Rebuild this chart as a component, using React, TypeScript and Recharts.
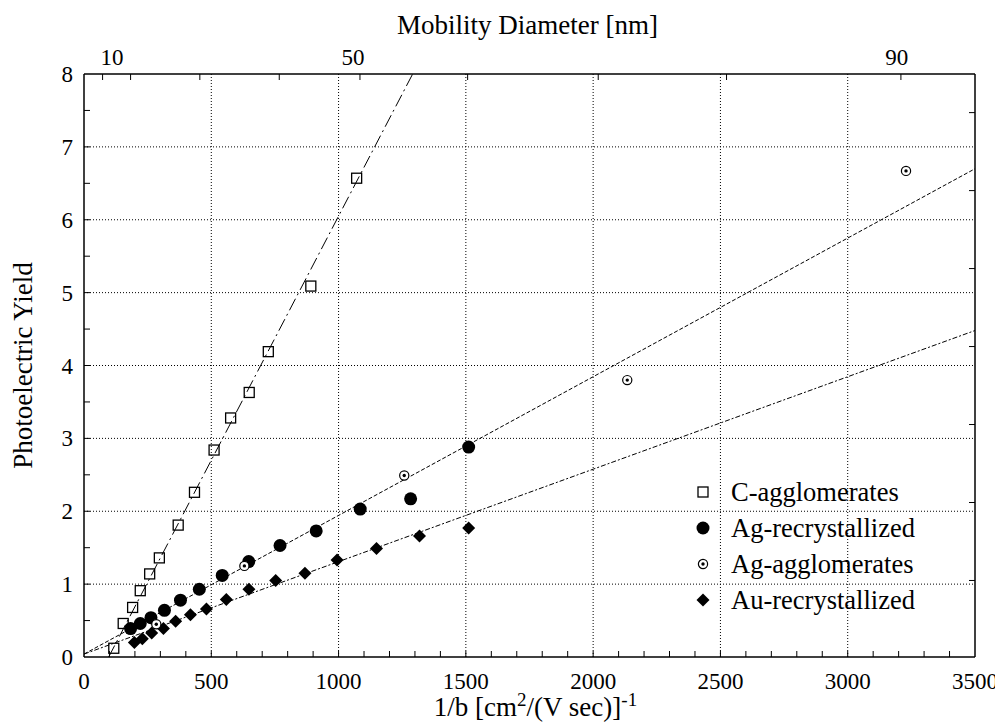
import React from 'react';
import { ComposedChart, Scatter, Line, XAxis, YAxis, CartesianGrid } from 'recharts';

// ---- data ----
const cAgglomerates = [
  { x: 117, y: 0.12 }, { x: 154, y: 0.46 }, { x: 191, y: 0.68 }, { x: 221, y: 0.91 },
  { x: 258, y: 1.14 }, { x: 296, y: 1.36 }, { x: 370, y: 1.81 }, { x: 434, y: 2.26 },
  { x: 511, y: 2.84 }, { x: 576, y: 3.28 }, { x: 649, y: 3.63 }, { x: 724, y: 4.19 },
  { x: 891, y: 5.09 }, { x: 1071, y: 6.57 },
];
const agRecrystallized = [
  { x: 183, y: 0.39 }, { x: 221, y: 0.46 }, { x: 263, y: 0.54 }, { x: 316, y: 0.64 },
  { x: 379, y: 0.78 }, { x: 453, y: 0.93 }, { x: 543, y: 1.12 }, { x: 647, y: 1.31 },
  { x: 770, y: 1.53 }, { x: 912, y: 1.73 }, { x: 1085, y: 2.03 }, { x: 1283, y: 2.17 },
  { x: 1511, y: 2.88 },
];
const agAgglomerates = [
  { x: 284, y: 0.45 }, { x: 630, y: 1.25 }, { x: 1258, y: 2.49 }, { x: 2134, y: 3.8 },
  { x: 3229, y: 6.67 },
];
const auRecrystallized = [
  { x: 198, y: 0.2 }, { x: 229, y: 0.25 }, { x: 266, y: 0.33 }, { x: 312, y: 0.39 },
  { x: 360, y: 0.49 }, { x: 418, y: 0.58 }, { x: 481, y: 0.66 }, { x: 559, y: 0.79 },
  { x: 648, y: 0.93 }, { x: 753, y: 1.05 }, { x: 868, y: 1.15 }, { x: 994, y: 1.33 },
  { x: 1149, y: 1.49 }, { x: 1318, y: 1.66 }, { x: 1511, y: 1.77 },
];
const cFit = [{ x: 97, y: 0 }, { x: 1291, y: 8 }];
const agFit = [{ x: 0, y: 0.04 }, { x: 3500, y: 6.7 }];
const auFit = [{ x: 0, y: 0.04 }, { x: 3500, y: 4.48 }];

// ---- axes ----
const xMajorTicks = [0, 500, 1000, 1500, 2000, 2500, 3000, 3500];
const xMinorTicks = [
  0, 100, 200, 300, 400, 500, 600, 700, 800, 900, 1000, 1100, 1200, 1300, 1400, 1500, 1600, 1700,
  1800, 1900, 2000, 2100, 2200, 2300, 2400, 2500, 2600, 2700, 2800, 2900, 3000, 3100, 3200, 3300,
  3400, 3500,
];
const xGrid = [500, 1000, 1500, 2000, 2500, 3000];
const yMajorTicks = [0, 1, 2, 3, 4, 5, 6, 7, 8];
const yMinorTicks = [0, 0.5, 1, 1.5, 2, 2.5, 3, 3.5, 4, 4.5, 5, 5.5, 6, 6.5, 7, 7.5, 8];
const yGrid = [1, 2, 3, 4, 5, 6, 7];
const rightTicks = [1.05, 2.12, 3.19, 4.26, 5.33, 6.4, 7.47];
// top axis: mobility diameter ticks (positions in 1/b units) and label positions
const topTickPositions = [73, 183, 455, 767, 1084, 1507, 2020, 2524, 3209];
const topLabelPositions = [110, 1057, 3193];
const topLabels = ['10', '50', '90'];
const topAxisTicks = [...topTickPositions, ...topLabelPositions].sort((a, b) => a - b);

const FONT = "'Liberation Serif', 'Times New Roman', Times, serif";
const TICK_FS = 23;
const TITLE_FS = 27;
const TICK_LEN = 6;

const BottomTick = (p: any) => {
  const v = p.payload.value;
  const major = xMajorTicks.includes(v);
  return (
    <g>
      {v > 0 && v < 3500 && <line x1={p.x} x2={p.x} y1={p.y} y2={p.y - TICK_LEN} stroke="#000" strokeWidth={1} />}
      {major && (
        <text x={p.x} y={p.y + 32} textAnchor="middle" fontSize={TICK_FS} fontFamily={FONT} fill="#000">
          {String(v)}
        </text>
      )}
    </g>
  );
};
const LeftTick = (p: any) => {
  const v = p.payload.value;
  const major = yMajorTicks.includes(v);
  return (
    <g>
      {v > 0 && v < 8 && <line x1={p.x} x2={p.x + TICK_LEN} y1={p.y} y2={p.y} stroke="#000" strokeWidth={1} />}
      {major && (
        <text x={p.x - 11} y={p.y + 8} textAnchor="end" fontSize={TICK_FS} fontFamily={FONT} fill="#000">
          {String(v)}
        </text>
      )}
    </g>
  );
};
const TopTick = (p: any) => {
  const v = p.payload.value;
  const li = topLabelPositions.indexOf(v);
  return (
    <g>
      {topTickPositions.includes(v) && (
        <line x1={p.x} x2={p.x} y1={p.y} y2={p.y + TICK_LEN} stroke="#000" strokeWidth={1} />
      )}
      {li >= 0 && (
        <text x={p.x} y={p.y - 9} textAnchor="middle" fontSize={TICK_FS} fontFamily={FONT} fill="#000">
          {topLabels[li]}
        </text>
      )}
    </g>
  );
};
const RightTick = (p: any) => (
  <line x1={p.x} x2={p.x - TICK_LEN} y1={p.y} y2={p.y} stroke="#000" strokeWidth={1} />
);

const OpenSquare = (p: any) => (
  <rect x={p.cx - 5} y={p.cy - 5} width={10} height={10} fill="none" stroke="#000" strokeWidth={1.3} />
);
const FilledCircle = (p: any) => <circle cx={p.cx} cy={p.cy} r={6.5} fill="#000" />;
const DotCircle = (p: any) => (
  <g>
    <circle cx={p.cx} cy={p.cy} r={4.6} fill="#fff" stroke="#000" strokeWidth={1.2} />
    <circle cx={p.cx} cy={p.cy} r={1.7} fill="#000" />
  </g>
);
const Diamond = (p: any) => (
  <polygon
    points={`${p.cx},${p.cy - 6.5} ${p.cx + 6.5},${p.cy} ${p.cx},${p.cy + 6.5} ${p.cx - 6.5},${p.cy}`}
    fill="#000"
  />
);

const BottomTitle = (props: any) => {
  const vb = props.viewBox || { x: 76, y: 649, width: 891, height: 66 };
  const cx = vb.x + vb.width / 2 + 6;
  return (
    <text x={cx} y={vb.y + 59} textAnchor="middle" fontSize={TITLE_FS} fontFamily={FONT} fill="#000">
      1/b [cm<tspan dy={-10} fontSize={19}>2</tspan>
      <tspan dy={10}>/(V sec)]</tspan>
      <tspan dy={-10} fontSize={19}>-1</tspan>
    </text>
  );
};
const LeftTitle = (props: any) => {
  const vb = props.viewBox || { x: 0, y: 66, width: 76, height: 583 };
  const cy = vb.y + vb.height / 2;
  const x = 24;
  return (
    <text x={x} y={cy} transform={`rotate(-90, ${x}, ${cy})`} textAnchor="middle" fontSize={TITLE_FS} fontFamily={FONT} fill="#000">
      Photoelectric Yield
    </text>
  );
};
const TopTitle = (props: any) => {
  const vb = props.viewBox || { x: 76, y: 0, width: 891, height: 66 };
  const cx = vb.x + vb.width / 2;
  return (
    <text x={cx - 2} y={26} textAnchor="middle" fontSize={TITLE_FS} fontFamily={FONT} fill="#000">
      Mobility Diameter [nm]
    </text>
  );
};

const legendItems = [
  { name: 'C-agglomerates', Icon: OpenSquare },
  { name: 'Ag-recrystallized', Icon: FilledCircle },
  { name: 'Ag-agglomerates', Icon: DotCircle },
  { name: 'Au-recrystallized', Icon: Diamond },
];

export default function App() {
  const axisLine = { stroke: '#000', strokeWidth: 1.5 };
  return (
    <div style={{ position: 'relative', width: 995, height: 715 }}>
      <ComposedChart width={995} height={715} margin={{ top: 0, right: 0, bottom: 0, left: 0 }}>
        <CartesianGrid
          xAxisId="x"
          yAxisId="y"
          verticalValues={xGrid}
          horizontalValues={yGrid}
          stroke="#000"
          strokeDasharray="1 2"
          strokeWidth={1}
        />
        <XAxis
          xAxisId="x"
          dataKey="x"
          type="number"
          domain={[0, 3500]}
          allowDataOverflow
          ticks={xMinorTicks}
          interval={0}
          orientation="bottom"
          height={66}
          tickLine={false}
          tickSize={0}
          tickMargin={0}
          tick={BottomTick}
          axisLine={axisLine}
          label={BottomTitle}
        />
        <YAxis
          yAxisId="y"
          dataKey="y"
          type="number"
          domain={[0, 8]}
          allowDataOverflow
          ticks={yMinorTicks}
          interval={0}
          orientation="left"
          width={76}
          tickLine={false}
          tickSize={0}
          tickMargin={0}
          tick={LeftTick}
          axisLine={axisLine}
          label={LeftTitle}
        />
        <XAxis
          xAxisId="top"
          dataKey="x"
          type="number"
          domain={[0, 3500]}
          allowDataOverflow
          ticks={topAxisTicks}
          interval={0}
          orientation="top"
          height={66}
          tickLine={false}
          tickSize={0}
          tickMargin={0}
          tick={TopTick}
          axisLine={axisLine}
          label={TopTitle}
        />
        <YAxis
          yAxisId="right"
          dataKey="y"
          type="number"
          domain={[0, 8]}
          allowDataOverflow
          ticks={rightTicks}
          interval={0}
          orientation="right"
          width={28}
          tickLine={false}
          tickSize={0}
          tickMargin={0}
          tick={RightTick}
          axisLine={axisLine}
        />
        {/* fit lines */}
        <Line xAxisId="x" yAxisId="y" data={cFit} dataKey="y" type="linear" stroke="#000" strokeWidth={1} strokeDasharray="13 4 2 4" dot={false} activeDot={false} isAnimationActive={false} />
        <Line xAxisId="x" yAxisId="y" data={agFit} dataKey="y" type="linear" stroke="#000" strokeWidth={1} strokeDasharray="4 2" dot={false} activeDot={false} isAnimationActive={false} />
        <Line xAxisId="x" yAxisId="y" data={auFit} dataKey="y" type="linear" stroke="#000" strokeWidth={1} strokeDasharray="5 2 2 2" dot={false} activeDot={false} isAnimationActive={false} />
        {/* invisible series tying the top and right axes to the same scales */}
        <Line xAxisId="top" yAxisId="right" data={agFit} dataKey="y" type="linear" stroke="none" dot={false} activeDot={false} legendType="none" isAnimationActive={false} />
        {/* data */}
        <Scatter xAxisId="x" yAxisId="y" name="C-agglomerates" data={cAgglomerates} shape={OpenSquare} isAnimationActive={false} />
        <Scatter xAxisId="x" yAxisId="y" name="Ag-recrystallized" data={agRecrystallized} shape={FilledCircle} isAnimationActive={false} />
        <Scatter xAxisId="x" yAxisId="y" name="Au-recrystallized" data={auRecrystallized} shape={Diamond} isAnimationActive={false} />
        <Scatter xAxisId="x" yAxisId="y" name="Ag-agglomerates" data={agAgglomerates} shape={DotCircle} isAnimationActive={false} />
      </ComposedChart>
      {legendItems.map((it, i) => (
        <div
          key={it.name}
          style={{
            position: 'absolute',
            left: 683,
            top: 466 + i * 36,
            height: 36,
            display: 'flex',
            alignItems: 'center',
            fontFamily: FONT,
            fontSize: 26.5,
            lineHeight: '36px',
            color: '#000',
            whiteSpace: 'nowrap',
          }}
        >
          <svg width={24} height={24} style={{ marginRight: 16 }}>
            <it.Icon cx={12} cy={12} />
          </svg>
          <span>{it.name}</span>
        </div>
      ))}
    </div>
  );
}
